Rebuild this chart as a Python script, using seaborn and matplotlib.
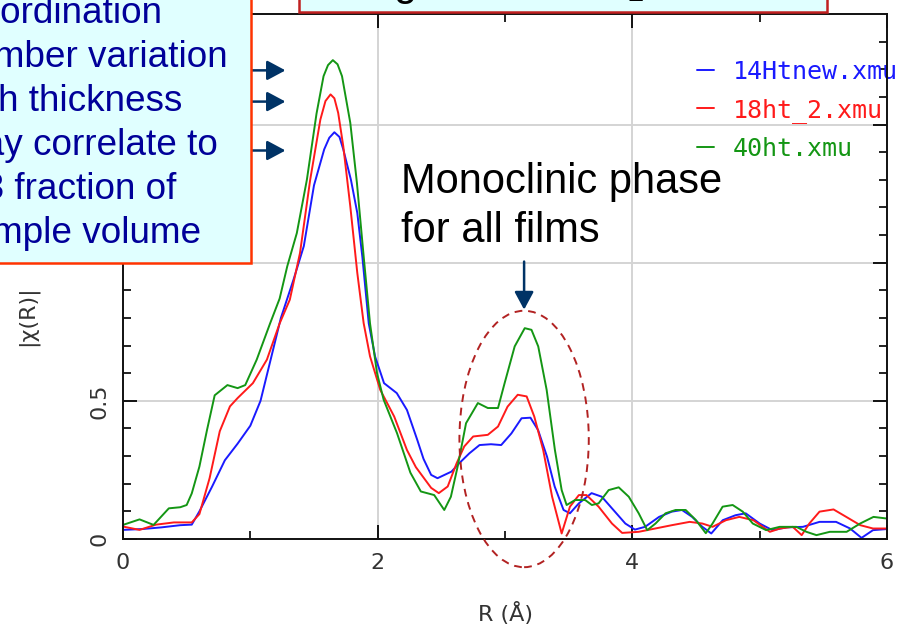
import numpy as np
import pandas as pd
import matplotlib
matplotlib.use("Agg")
import matplotlib.pyplot as plt
from matplotlib.patches import Rectangle, Ellipse
import seaborn as sns

# |chi(R)| magnitude of the Fourier transform for three films
r_14ht = [0.00, 0.15, 0.30, 0.45, 0.54, 0.60, 0.70, 0.80, 0.90, 1.00, 1.08, 1.16, 1.24,
          1.34, 1.42, 1.50, 1.58, 1.62, 1.66, 1.70, 1.73, 1.79, 1.84, 1.88, 1.93, 1.98,
          2.05, 2.15, 2.23, 2.31, 2.36, 2.42, 2.47, 2.58, 2.64, 2.72, 2.80, 2.89, 2.97,
          3.05, 3.13, 3.20, 3.26, 3.33, 3.39, 3.46, 3.51, 3.58, 3.68, 3.76, 3.84, 3.945,
          4.02, 4.10, 4.21, 4.31, 4.39, 4.47, 4.55, 4.62, 4.71, 4.81, 4.89, 5.00, 5.10,
          5.21, 5.34, 5.47, 5.60, 5.71, 5.80, 5.89, 6.00]
chi_14ht = [0.033, 0.036, 0.042, 0.050, 0.052, 0.100, 0.190, 0.285, 0.345, 0.410, 0.500,
            0.650, 0.800, 0.940, 1.060, 1.280, 1.410, 1.452, 1.472, 1.455, 1.410, 1.300,
            1.180, 1.020, 0.780, 0.660, 0.564, 0.528, 0.467, 0.360, 0.290, 0.232, 0.220,
            0.244, 0.274, 0.310, 0.340, 0.343, 0.340, 0.382, 0.437, 0.439, 0.394, 0.298,
            0.190, 0.105, 0.093, 0.129, 0.166, 0.153, 0.111, 0.056, 0.034, 0.044, 0.080,
            0.099, 0.105, 0.080, 0.044, 0.020, 0.068, 0.086, 0.093, 0.056, 0.032, 0.042,
            0.044, 0.062, 0.062, 0.038, 0.004, 0.032, 0.036]

r_18ht = [0.00, 0.13, 0.26, 0.40, 0.54, 0.60, 0.68, 0.76, 0.84, 0.90, 1.02, 1.13, 1.23,
          1.31, 1.39, 1.47, 1.55, 1.59, 1.63, 1.66, 1.69, 1.73, 1.785, 1.84, 1.89, 1.94,
          2.02, 2.13, 2.23, 2.30, 2.42, 2.48, 2.55, 2.62, 2.68, 2.75, 2.865, 2.945, 3.02,
          3.10, 3.17, 3.23, 3.30, 3.37, 3.445, 3.51, 3.58, 3.64, 3.735, 3.84, 3.92, 4.05,
          4.18, 4.31, 4.45, 4.55, 4.63, 4.735, 4.84, 4.95, 5.08, 5.16, 5.26, 5.33, 5.39,
          5.47, 5.58, 5.68, 5.79, 5.89, 6.00]
chi_18ht = [0.045, 0.033, 0.052, 0.060, 0.060, 0.090, 0.220, 0.390, 0.480, 0.510, 0.564,
            0.649, 0.780, 0.866, 1.035, 1.300, 1.518, 1.585, 1.609, 1.595, 1.542, 1.421,
            1.204, 0.963, 0.781, 0.661, 0.540, 0.443, 0.322, 0.260, 0.185, 0.166, 0.190,
            0.274, 0.335, 0.371, 0.377, 0.407, 0.479, 0.522, 0.516, 0.443, 0.322, 0.153,
            0.020, 0.117, 0.159, 0.159, 0.117, 0.056, 0.022, 0.026, 0.038, 0.050, 0.062,
            0.056, 0.044, 0.068, 0.080, 0.068, 0.026, 0.038, 0.044, 0.014, 0.056, 0.099,
            0.107, 0.080, 0.050, 0.038, 0.038]

r_40ht = [0.00, 0.13, 0.24, 0.36, 0.45, 0.50, 0.54, 0.60, 0.66, 0.72, 0.82, 0.90, 0.96,
          1.05, 1.155, 1.23, 1.29, 1.365, 1.444, 1.52, 1.575, 1.61, 1.648, 1.685, 1.72,
          1.785, 1.837, 1.89, 1.94, 1.995, 2.047, 2.152, 2.257, 2.339, 2.444, 2.523,
          2.575, 2.628, 2.694, 2.787, 2.865, 2.945, 2.997, 3.076, 3.155, 3.208, 3.261,
          3.327, 3.392, 3.445, 3.484, 3.55, 3.63, 3.682, 3.735, 3.814, 3.893, 3.972,
          4.05, 4.117, 4.182, 4.261, 4.34, 4.419, 4.498, 4.577, 4.63, 4.709, 4.788,
          4.867, 4.946, 5.051, 5.157, 5.288, 5.367, 5.446, 5.551, 5.683, 5.789, 5.894,
          6.00]
chi_40ht = [0.051, 0.071, 0.051, 0.111, 0.115, 0.123, 0.165, 0.262, 0.395, 0.520, 0.557,
            0.546, 0.557, 0.649, 0.780, 0.870, 0.987, 1.107, 1.300, 1.540, 1.675, 1.715,
            1.733, 1.718, 1.675, 1.506, 1.289, 1.023, 0.780, 0.600, 0.504, 0.383, 0.240,
            0.172, 0.159, 0.105, 0.153, 0.262, 0.419, 0.492, 0.474, 0.474, 0.564, 0.697,
            0.763, 0.757, 0.697, 0.540, 0.322, 0.177, 0.123, 0.141, 0.141, 0.123, 0.129,
            0.177, 0.187, 0.153, 0.093, 0.032, 0.056, 0.093, 0.105, 0.105, 0.069, 0.021,
            0.056, 0.117, 0.123, 0.099, 0.056, 0.032, 0.044, 0.044, 0.026, 0.014, 0.026,
            0.026, 0.056, 0.080, 0.074]

samples = ["14Htnew.xmu", "18ht_2.xmu", "40ht.xmu"]
colors = ["#1a1aff", "#ff1a1a", "#149614"]

x_ticks = [0, 2, 4, 6]
y_ticks = [0, 0.5, 1, 1.5]
y_tick_labels = ["0", "0.5", "", ""]

note_lines = ["Coordination", "number variation", "with thickness",
              "may correlate to", "1/3 fraction of", "sample volume"]
phase_lines = ["Monoclinic phase", "for all films"]

df = pd.concat(
    [pd.DataFrame({"R": r, "chi": c, "sample": s})
     for r, c, s in zip([r_14ht, r_18ht, r_40ht], [chi_14ht, chi_18ht, chi_40ht], samples)],
    ignore_index=True,
)

sns.set_style("ticks")
plt.rcParams["font.family"] = ["DejaVu Sans"]
plt.rcParams["mathtext.fontset"] = "custom"
plt.rcParams["mathtext.rm"] = "Liberation Sans"
plt.rcParams["mathtext.it"] = "Liberation Sans:italic"

W, H = 919, 629
fig = plt.figure(figsize=(W / 100, H / 100), dpi=100)
fig.patch.set_facecolor("white")
ax = fig.add_axes([123 / W, 1 - 539 / H, 764 / W, 525 / H])

sns.lineplot(data=df, x="R", y="chi", hue="sample", hue_order=samples,
             palette=colors, estimator=None, lw=1.4, ax=ax)

ax.set_xlim(0, 6)
ax.set_ylim(0, 1.9)
ax.set_xticks(x_ticks)
ax.set_xticks([1, 3, 5], minor=True)
ax.set_yticks(y_ticks)
ax.set_yticklabels(y_tick_labels)
ax.set_yticks(np.round(np.arange(0.1, 1.9, 0.1), 2), minor=True)
ax.grid(True, which="major", color="#d4d4d4", lw=1.4)
ax.set_axisbelow(True)

for s in ax.spines.values():
    s.set_linewidth(1.4)
    s.set_color("#111111")
ax.tick_params(which="major", direction="in", length=10, width=1.4,
               top=True, right=True, labelsize=16, labelcolor="#333333", pad=10,
               color="#111111")
ax.tick_params(which="minor", direction="in", length=5.5, width=1.3,
               top=True, right=True, color="#111111")
for lab in ax.get_yticklabels():
    lab.set_rotation(90)
    lab.set_va("center")

ax.set_xlabel("R (Å)", fontsize=16, color="#333333")
ax.xaxis.set_label_coords(0.5, -0.141)
ax.xaxis.label.set_va("center")
ax.set_ylabel("|χ(R)|", fontsize=16, color="#333333")
ax.yaxis.set_label_coords(-0.125, 0.425)
ax.yaxis.label.set_va("center")

handles, labels = ax.get_legend_handles_labels()
leg = ax.legend(handles, labels, loc="upper left", bbox_to_anchor=(0.751, 0.912),
                frameon=False, prop={"family": "DejaVu Sans Mono", "size": 18},
                handlelength=0.7, handletextpad=0.75, labelspacing=0.55,
                borderaxespad=0, borderpad=0)
for txt, col in zip(leg.get_texts(), colors):
    txt.set_color(col)
leg.set_zorder(2)

# dashed ellipse around the second shell and the arrow pointing at it
ax.add_patch(Ellipse((3.15, 0.362), 1.016, 0.928, fill=False, ec="#b22222",
                     ls=(0, (4, 3)), lw=1.4, clip_on=False, zorder=4))
ax.annotate("", xy=(3.15, 0.83), xytext=(3.15, 1.004),
            arrowprops=dict(arrowstyle="-|>,head_length=0.54,head_width=0.29",
                            mutation_scale=20, color="#003366", lw=1.8,
                            shrinkA=0, shrinkB=0),
            annotation_clip=False)
for k, line in enumerate(phase_lines):
    ax.text(2.18, 1.254 - 0.178 * k, line, fontsize=30, family="Liberation Sans",
            color="black", va="baseline", ha="left")

# arrows from the note box toward the first-shell peaks
for yv in [1.696, 1.583, 1.406]:
    ax.annotate("", xy=(1.276, yv), xytext=(1.0, yv),
                arrowprops=dict(arrowstyle="-|>,head_length=0.56,head_width=0.3",
                                mutation_scale=20, color="#003366", lw=1.8,
                                shrinkA=0, shrinkB=0),
                annotation_clip=False)

# note box at upper left
fig.add_artist(Rectangle((-0.1, 1 - 263 / H), 251 / W + 0.1, 263 / H + 0.1,
                         transform=fig.transFigure, facecolor="#e0ffff",
                         edgecolor="#ff3300", lw=1.8, zorder=10))
for k, line in enumerate(note_lines):
    fig.text(-47 / W, 1 - (23 + 44 * k) / H, line, fontsize=26.6,
             family="Liberation Sans", color="#000099", ha="left", va="baseline",
             zorder=11)

# title box at top
fig.add_artist(Rectangle((299 / W, 1 - 12 / H), 528 / W, 0.1,
                         transform=fig.transFigure, facecolor="#e0ffff",
                         edgecolor="#c02020", lw=1.8, zorder=10))
fig.text(231 / W, 1 + 5 / H, "Annealing of thin HfO$_2$ films", fontsize=30,
         family="Liberation Sans", color="black", ha="left", va="baseline", zorder=11)

fig.savefig("out.png", dpi=100)
